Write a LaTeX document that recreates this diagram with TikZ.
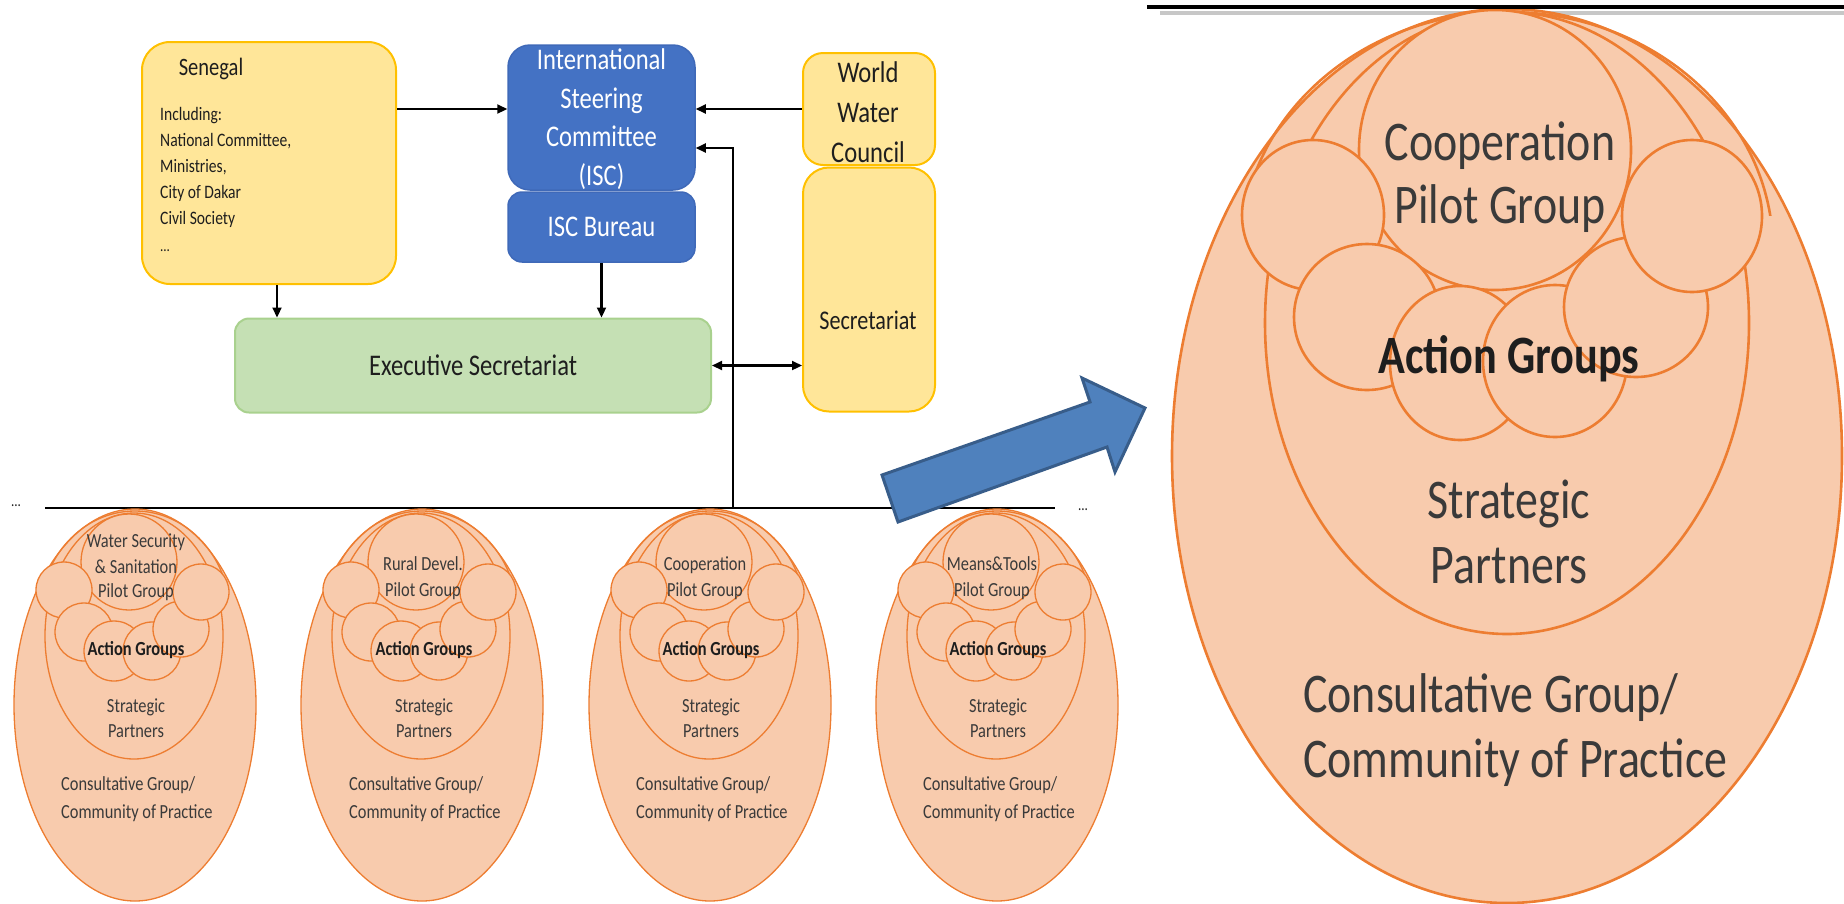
\documentclass[tikz,border=0pt]{standalone}
\usepackage{fontspec}
\setmainfont[FakeStretch=0.82]{Carlito}
\usetikzlibrary{arrows.meta,calc}
\definecolor{boxyellow}{HTML}{FFE699}
\definecolor{boxgold}{HTML}{FFC000}
\definecolor{iscblue}{HTML}{4472C4}
\definecolor{iscborder}{HTML}{3F69B8}
\definecolor{execgreen}{HTML}{C5E0B4}
\definecolor{execborder}{HTML}{A9D18E}
\definecolor{eggfill}{HTML}{F8CBAD}
\definecolor{eggline}{HTML}{ED7D31}
\definecolor{arrowblue}{HTML}{4F81BD}
\definecolor{arrowborder}{HTML}{385D8A}
\definecolor{eggtext}{HTML}{3A3A3A}
\definecolor{boxtext}{HTML}{1E1E1E}

\tikzset{
  ybox/.style={draw=boxgold, fill=boxyellow, line width=2pt, rounded corners=28pt, inner sep=0pt},
  bbox/.style={draw=iscborder, fill=iscblue, line width=1.5pt, rounded corners=22pt, text=white, align=center, inner sep=0pt},
  gbox/.style={draw=execborder, fill=execgreen, line width=2pt, rounded corners=14pt, inner sep=0pt, text=boxtext},
  bigtxt/.style={font=\fontsize{30}{37}\selectfont, inner sep=0pt},
  conn/.style={line width=2.2pt, -{Triangle[length=10pt,width=9pt]}},
  bconn/.style={line width=2.2pt, {Triangle[length=10pt,width=9pt]}-{Triangle[length=10pt,width=9pt]}},
  eggl/.style={draw=eggline, line width=1.3pt},
  beggl/.style={draw=eggline, line width=2.6pt},
  etxt/.style={font=\fontsize{20}{24}\selectfont, text=eggtext, inner sep=0pt, anchor=base},
  etxtb/.style={font=\fontsize{20}{24}\selectfont\bfseries, text=boxtext, inner sep=0pt, anchor=base},
  etxtl/.style={etxt, anchor=base west},
  btxt/.style={font=\fontsize{56}{64}\selectfont, text=eggtext, inner sep=0pt, anchor=base},
  btxtb/.style={font=\fontsize{54}{64}\selectfont\bfseries, text=boxtext, inner sep=0pt, anchor=base},
  btxtl/.style={btxt, anchor=base west},
  dots/.style={font=\fontsize{16}{18}\selectfont, inner sep=0pt, text=boxtext}
}

\newcommand\eggshape[2]{%
\begin{scope}[shift={(#1,#2)}]
  \draw[eggl,fill=eggfill] (0,0) ellipse[x radius=121,y radius=196];
  \begin{scope}
    \clip (-125,-200) rectangle (125,-115);
    \draw[eggl] (0,-90) ellipse[x radius=95,y radius=104];
  \end{scope}
  \draw[eggl,fill=eggfill] (-1,-69) ellipse[x radius=89,y radius=123];
  \draw[eggl,fill=eggfill] (-6,-143) circle[radius=48];
  \draw[eggl,fill=eggfill] (-71,-115) circle[radius=28];
  \draw[eggl,fill=eggfill] (-51,-73) circle[radius=29];
  \draw[eggl,fill=eggfill] (-21,-54) circle[radius=30];
  \draw[eggl,fill=eggfill] (17,-54) circle[radius=29];
  \draw[eggl,fill=eggfill] (46,-76) circle[radius=28];
  \draw[eggl,fill=eggfill] (66,-113) circle[radius=28];
\end{scope}}

\newcommand\eggtexts[2]{%
  \node[etxtb] (act#2) at (#1,655) {Action Groups};
  \node[etxt] (stra#2) at (#1,712) {Strategic};
  \node[etxt] (part#2) at (#1,737) {Partners};
  \node[etxtl] (cons#2) at ($(#1,790)+(-75,0)$) {Consultative Group/};
  \node[etxtl] (comm#2) at ($(#1,818)+(-75,0)$) {Community of Practice};
}

\begin{document}
\begin{tikzpicture}[x=1pt, y=-1pt]
\useasboundingbox (0,0) rectangle (1844,903);

% ---------- top organisation ----------
\node[ybox, minimum width=254pt, minimum height=242pt] (sen) at (269,163) {};
\node[font=\fontsize{25}{30}\selectfont, inner sep=0pt, text=boxtext] (sentitle) at (211,69) {Senegal};
\node[font=\fontsize{19}{26}\selectfont, align=left, anchor=north west, inner sep=0pt, text=boxtext] (senlist) at (160,107)
  {Including:\\National Committee,\\Ministries,\\City of Dakar\\Civil Society};
\node[dots] (sendots) at (165,251) {...};

\node[bbox, font=\fontsize{30}{38.5}\selectfont, text=white, minimum width=187pt, minimum height=145pt] (isc) at (601.5,117.5) {};
\node[font=\fontsize{30}{38.5}\selectfont, text=white, align=center, inner sep=0pt] (isctxt) at (601.5,119)
  {International\\Steering\\Committee\\(ISC)};
\node[bbox, bigtxt, text=white, rounded corners=14pt, minimum width=187pt, minimum height=70pt] (bur) at (601.5,227) {ISC Bureau};

\node[ybox, rounded corners=20pt, minimum width=132pt, minimum height=112pt] (wwc) at (869,109) {};
\node[font=\fontsize{30}{40}\selectfont, align=center, inner sep=0pt, text=boxtext] (wwctxt) at (868,112) {World\\Water\\Council};
\node[ybox, rounded corners=26pt, minimum width=132pt, minimum height=244pt] (sec) at (869,289.5) {};
\node[font=\fontsize{27}{32}\selectfont, inner sep=0pt, text=boxtext] (sectxt) at (868,320) {Secretariat};

\node[gbox, bigtxt, minimum width=476pt, minimum height=94pt] (exec) at (473,365.5) {Executive Secretariat};

% connectors
\draw[conn] (sen.east |- wwc.west) -- (isc.west |- wwc.west);
\draw[conn] (wwc.west) -- (isc.east |- wwc.west);
\draw[conn] ([xshift=8pt]sen.south) -- ([xshift=8pt]sen.south |- exec.north);
\draw[conn] (bur.south) -- (bur.south |- exec.north);
\draw[bconn] (exec.east) -- (sec.west |- exec.east);

% bar
\coordinate (barL) at (45,508);
\coordinate (barR) at (1055,508);
\coordinate (jn) at (733,508);
\draw[line width=2.6pt] (barL) -- (barR);
\draw[conn] (jn) |- ([yshift=-30.5pt]isc.east);
\node[dots] (dotsL) at (16,506) {...};
\node[dots] (dotsR) at (1083,510) {...};

% ---------- small eggs ----------
\eggshape{135}{705}
\eggshape{422}{705}
\eggshape{710}{705}
\eggshape{997}{705}

\node[etxt] (pil1a) at (136,547) {Water Security};
\node[etxt] (pil1b) at (136,573) {\& Sanitation};
\node[etxt] (pil1c) at (136,597) {Pilot Group};
\eggtexts{136}{1}

\node[etxt] (pil2a) at (423,570) {Rural Devel.};
\node[etxt] (pil2b) at (423,596) {Pilot Group};
\eggtexts{424}{2}

\node[etxt] (pil3a) at (705,570) {Cooperation};
\node[etxt] (pil3b) at (705,596) {Pilot Group};
\eggtexts{711}{3}

\node[etxt] (pil4a) at (992,570) {Means\&Tools};
\node[etxt] (pil4b) at (992,596) {Pilot Group};
\eggtexts{998}{4}

% ---------- big arrow ----------
\draw[fill=arrowblue, draw=arrowborder, line width=3pt] (882,475) -- (1090,402) -- (1082,378) -- (1145,408) -- (1115,472) -- (1107,447) -- (898,522) -- cycle;

% ---------- big egg ----------
\draw[line width=4pt, color=black!22] (1160,12.5) -- (1844,12.5);
\draw[beggl, fill=eggfill] (1507,456) ellipse[x radius=335, y radius=447];
\begin{scope}
  \clip (1160,0) rectangle (1844,215);
  \draw[beggl] (1507,250) ellipse[x radius=266, y radius=238];
\end{scope}
\draw[beggl, fill=eggfill] (1507,323) ellipse[x radius=242, y radius=311];
\draw[beggl, fill=eggfill] (1495,150) ellipse[x radius=136, y radius=140];
\draw[beggl, fill=eggfill] (1313,215) ellipse[x radius=71, y radius=75];
\draw[beggl, fill=eggfill] (1367,317) ellipse[x radius=73, y radius=73];
\draw[beggl, fill=eggfill] (1460,363) ellipse[x radius=70, y radius=77];
\draw[beggl, fill=eggfill] (1555,361) ellipse[x radius=72, y radius=76];
\draw[beggl, fill=eggfill] (1636,307) ellipse[x radius=72, y radius=70];
\draw[beggl, fill=eggfill] (1692,216) ellipse[x radius=70, y radius=76];
\draw[line width=4pt] (1147,7) -- (1844,7);

\node[btxt] (bpila) at (1500,160) {Cooperation};
\node[btxt] (bpilb) at (1500,223) {Pilot Group};
\node[btxtb] (bact) at (1509,373) {Action Groups};
\node[btxt] (bstra) at (1509,518) {Strategic};
\node[btxt] (bpart) at (1509,583) {Partners};
\node[btxtl] (bcons) at (1303,712) {Consultative Group/};
\node[btxtl] (bcomm) at (1303,777) {Community of Practice};
\end{tikzpicture}
\end{document}
